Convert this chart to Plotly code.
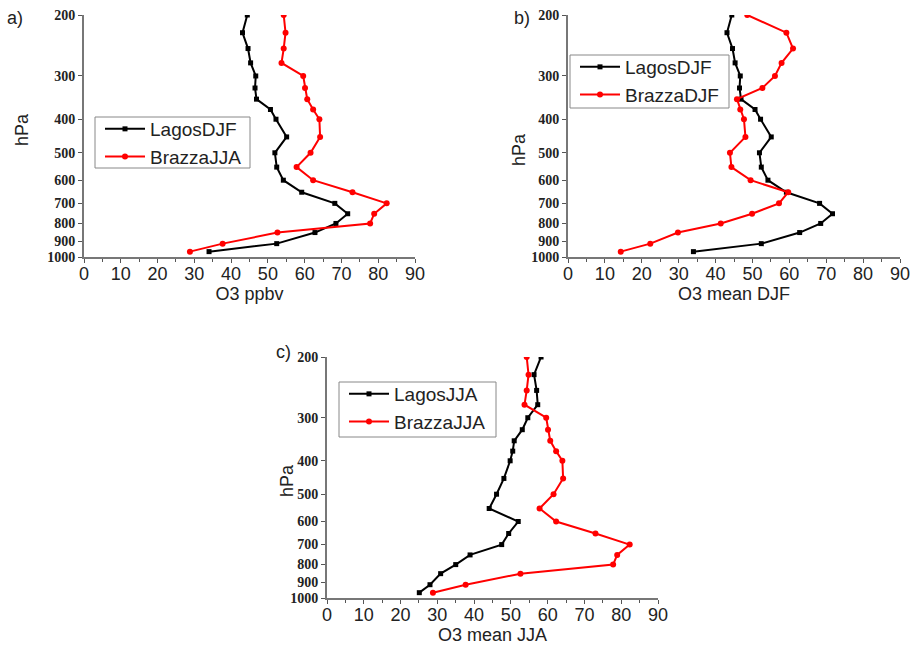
import numpy as np
import plotly.graph_objects as go

# pressure levels (hPa), same for every profile
levels = [200, 225, 250, 275, 300, 325, 350, 375, 400, 450,
          500, 550, 600, 650, 700, 750, 800, 850, 915, 965]

lagos_djf = [44.4, 43.1, 44.6, 45.3, 46.7, 46.5, 46.9, 50.7, 52.2, 55.1,
             51.9, 52.4, 54.2, 59.2, 68.2, 71.7, 68.5, 62.8, 52.4, 34.0]
brazza_jja = [54.3, 54.8, 54.3, 53.7, 59.6, 60.1, 60.7, 62.3, 64.0, 64.2,
              61.6, 57.8, 62.3, 73.0, 82.3, 78.9, 77.8, 52.6, 37.7, 28.8]
brazza_djf = [48.6, 59.2, 61.0, 57.9, 56.1, 52.7, 45.8, 46.7, 47.7, 48.1,
              43.9, 44.3, 49.5, 59.7, 57.2, 49.9, 41.4, 29.8, 22.3, 14.3]
lagos_jja = [58.2, 56.3, 57.0, 57.3, 54.6, 53.1, 50.9, 50.5, 49.8, 48.1,
             46.1, 44.1, 52.0, 49.4, 47.5, 38.9, 35.0, 30.9, 28.0, 25.1]

y_ticks = [200, 300, 400, 500, 600, 700, 800, 900, 1000]
x_ticks = list(range(0, 100, 10))

# body margin is removed in the page (post_script), so figure px == page px
W, H = 912, 650


def px(x):
    return x / W


def py(y):
    return 1 - y / H


# (axis suffix, legend id, plot box in page px (x0, x1, ytop, ybottom), x title, label, label pos,
#  hPa title pos, black name, black data, red name, red data, legend box (x0, y0, x1, y1))
panels = [
    ('', 'legend', (84, 415, 15, 257), 'O3 ppbv', 'a)', (15, 18), (22, 130),
     'LagosDJF', lagos_djf, 'BrazzaJJA', brazza_jja, (95, 117, 250, 168)),
    ('2', 'legend2', (568, 900, 15, 257), 'O3 mean DJF', 'b)', (522, 18), (519, 150),
     'LagosDJF', lagos_djf, 'BrazzaDJF', brazza_djf, (570, 55, 729, 108)),
    ('3', 'legend3', (327, 658, 357, 598), 'O3 mean JJA', 'c)', (283, 352), (287, 481),
     'LagosJJA', lagos_jja, 'BrazzaJJA', brazza_jja, (339, 382, 496, 437)),
]

fig = go.Figure()
font_txt = dict(family='Liberation Sans', size=18, color='#222')

for (suffix, leg, box, xtitle, label, lpos, hpos,
     bname, bvals, rname, rvals, lbox) in panels:
    fig.add_trace(go.Scatter(
        x=bvals, y=levels, name=bname, mode='lines+markers',
        line=dict(color='black', width=2),
        marker=dict(symbol='square', size=5, color='black'),
        xaxis='x' + suffix, yaxis='y' + suffix, legend=leg,
    ))
    fig.add_trace(go.Scatter(
        x=rvals, y=levels, name=rname, mode='lines+markers',
        line=dict(color='#ff0000', width=2),
        marker=dict(symbol='circle', size=6, color='#ff0000'),
        xaxis='x' + suffix, yaxis='y' + suffix, legend=leg,
    ))

    x0, x1, yt, yb = box
    fig.update_layout({
        'xaxis' + suffix: dict(
            domain=[px(x0), px(x1)], anchor='y' + suffix, range=[0, 90], automargin=False,
            tickvals=x_ticks, ticks='outside', ticklen=4, tickwidth=1,
            tickcolor='#555', showline=True, linecolor='#777', linewidth=2,
            showgrid=False, zeroline=False, ticklabelstandoff=-5,
            ticklabeloverflow='allow',
            minor=dict(dtick=5, ticks='outside', ticklen=3, tickcolor='#555', showgrid=False),
            tickfont=font_txt,
            title=dict(text=xtitle, standoff=0, font=font_txt),
        ),
        'yaxis' + suffix: dict(
            domain=[py(yb), py(yt)], anchor='x' + suffix, type='log', automargin=False,
            range=[np.log10(1000), np.log10(200)],
            tickvals=y_ticks, ticktext=[str(v) for v in y_ticks],
            ticks='outside', ticklen=4, tickcolor='#555',
            showline=True, linecolor='#777', linewidth=2,
            showgrid=False, zeroline=False, ticklabeloverflow='allow',
            tickfont=dict(family='Liberation Serif', size=14, color='#222', weight='bold'),
        ),
    })

    # legend frame drawn as a shape, legend itself without border
    bx0, by0, bx1, by1 = lbox
    fig.add_shape(type='rect', xref='paper', yref='paper',
                  x0=px(bx0), x1=px(bx1), y0=py(by1), y1=py(by0),
                  line=dict(color='#888', width=1), fillcolor='white', layer='below')
    fig.update_layout({
        leg: dict(
            x=px(bx0 + 5), y=py(by0 - 7), xanchor='left', yanchor='top',
            bgcolor='rgba(0,0,0,0)', borderwidth=0,
            font=dict(family='Liberation Sans', size=19, color='#222'),
            itemwidth=40, tracegroupgap=0,
        )
    })

    fig.add_annotation(text=label, x=px(lpos[0]), y=py(lpos[1]), xref='paper', yref='paper',
                       showarrow=False, xanchor='center', yanchor='middle', font=font_txt)
    fig.add_annotation(text='hPa', x=px(hpos[0]), y=py(hpos[1]), xref='paper', yref='paper',
                       showarrow=False, xanchor='center', yanchor='middle', textangle=-90,
                       font=font_txt)

fig.update_layout(
    width=W, height=H,
    margin=dict(l=0, r=0, t=0, b=0),
    paper_bgcolor='white', plot_bgcolor='white',
    showlegend=True,
)

fig.write_html("out.html", config={'displayModeBar': False},
               post_script="document.body.style.margin = '0';")
